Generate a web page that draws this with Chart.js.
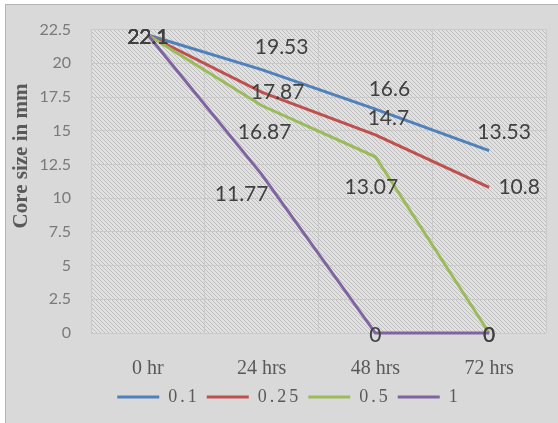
<!DOCTYPE html>
<html>
<head>
<meta charset="utf-8">
<script src="https://cdn.jsdelivr.net/npm/chart.js@4/dist/chart.umd.min.js"></script>
<style>
  html, body { margin: 0; padding: 0; background: #ffffff; }
  canvas { display: block; }
</style>
</head>
<body>
<canvas id="chart" width="558" height="423"></canvas>
<script>
// Categories (time after treatment) and core size series, in mm
const categories = ['0 hr', '24 hrs', '48 hrs', '72 hrs'];
const seriesNames = ['0.1', '0.25', '0.5', '1'];
const series01  = [22.1, 19.53, 16.6, 13.53];
const series025 = [22.1, 17.87, 14.7, 10.8];
const series05  = [22.1, 16.87, 13.07, 0];
const series1   = [22.1, 11.77, 0, 0];

// Value axis range
const yMin = 0;
const yMax = 22.5;
const yStep = 2.5;

// Styling
const seriesColors = ['#4f81bd', '#c0504d', '#9bbb59', '#8064a2'];
// Where each value label sits relative to its point (dx, dy in px)
const labelOffsets = [
  [[0, 2], [20, -22], [14, -20], [15, -18]],
  [[0, 2], [16, 0], [13, -17], [30, 0]],
  [[0, 2], [3, 27], [-4, 30], [0, 2]],
  [[0, 2], [-20, 20], [0, 2], [0, 2]]
];

// Diagonal hatch used as the plot area fill
function makeHatch(ctx) {
  const tile = document.createElement('canvas');
  tile.width = 4; tile.height = 4;
  const g = tile.getContext('2d');
  g.fillStyle = '#e1e1e1';
  g.fillRect(0, 0, 4, 4);
  g.fillStyle = '#bdbdbd';
  for (let i = 0; i < 4; i++) g.fillRect(i, i, 1, 1);
  return ctx.createPattern(tile, 'repeat');
}

const backgroundPlugin = {
  id: 'panelBackground',
  beforeDraw(chart) {
    const { ctx, width, height, chartArea } = chart;
    ctx.save();
    ctx.fillStyle = '#ffffff';
    ctx.fillRect(0, 0, width, height);
    ctx.fillStyle = '#d9d9d9';
    ctx.fillRect(5, 4, width - 5, height - 4);
    ctx.strokeStyle = '#b4b4b4';
    ctx.lineWidth = 1;
    ctx.beginPath();
    ctx.moveTo(5.5, height);
    ctx.lineTo(5.5, 4.5);
    ctx.lineTo(width, 4.5);
    ctx.stroke();
    ctx.fillStyle = makeHatch(ctx);
    ctx.fillRect(chartArea.left, chartArea.top,
                 chartArea.right - chartArea.left, chartArea.bottom - chartArea.top);
    ctx.restore();
  }
};

const valueLabelPlugin = {
  id: 'valueLabels',
  afterDatasetsDraw(chart) {
    const ctx = chart.ctx;
    ctx.save();
    ctx.font = '21px Lato';
    ctx.fillStyle = '#404040';
    ctx.textAlign = 'center';
    ctx.textBaseline = 'middle';
    chart.data.datasets.forEach((ds, di) => {
      const meta = chart.getDatasetMeta(di);
      meta.data.forEach((pt, i) => {
        const off = labelOffsets[di][i];
        ctx.fillText(String(ds.data[i]), pt.x + off[0], pt.y + off[1]);
      });
    });
    ctx.restore();
  }
};

const axisTitlePlugin = {
  id: 'valueAxisTitle',
  afterDraw(chart) {
    const ctx = chart.ctx;
    ctx.save();
    ctx.translate(22, 156);
    ctx.rotate(-Math.PI / 2);
    ctx.font = 'bold 21px "Liberation Serif"';
    ctx.fillStyle = '#595959';
    ctx.textAlign = 'center';
    ctx.textBaseline = 'middle';
    ctx.fillText('Core size in mm', 0, 0);
    ctx.restore();
  }
};

// Spaced-out lettering for the legend entries, in a compact strip below the axis
const legendSpacingPlugin = {
  id: 'legendSpacing',
  afterInit(chart) {
    const lg = chart.legend;
    if (!lg) return;
    const origFit = lg.fit.bind(lg);
    lg.fit = function () {
      const c = chart.ctx;
      c.save();
      c.letterSpacing = '3px';
      const r = origFit();
      c.restore();
      lg.height = 33;
      return r;
    };
    const origDraw = lg.draw.bind(lg);
    lg.draw = function () {
      const c = chart.ctx;
      c.save();
      c.letterSpacing = '3px';
      c.translate(16, -2);
      const r = origDraw();
      c.restore();
      return r;
    };
  }
};

const seriesData = [series01, series025, series05, series1];

const datasets = seriesData.map((vals, i) => ({
  label: seriesNames[i],
  data: vals,
  borderColor: seriesColors[i],
  backgroundColor: seriesColors[i],
  borderWidth: 3,
  pointRadius: 0,
  pointHoverRadius: 0,
  tension: 0,
  fill: false,
  clip: 6,
  order: seriesData.length - i
}));

new Chart(document.getElementById('chart'), {
  type: 'line',
  data: { labels: categories, datasets },
  plugins: [backgroundPlugin, valueLabelPlugin, axisTitlePlugin, legendSpacingPlugin],
  options: {
    responsive: false,
    animation: false,
    events: [],
    layout: { padding: { left: 0, right: 12, top: 22, bottom: 7 } },
    plugins: {
      tooltip: { enabled: false },
      legend: {
        position: 'bottom',
        labels: {
          boxWidth: 42,
          boxHeight: 3,
          padding: 7,
          color: '#595959',
          font: { family: 'Liberation Serif', size: 18 },
          generateLabels(chart) {
            return chart.data.datasets.map((ds, i) => ({
              text: ds.label,
              fillStyle: ds.borderColor,
              strokeStyle: ds.borderColor,
              lineWidth: 0,
              fontColor: '#595959',
              hidden: false,
              datasetIndex: i
            }));
          }
        }
      }
    },
    scales: {
      x: {
        offset: true,
        grid: { color: '#c9c9c9', drawTicks: false, offset: true },
        border: { display: false },
        ticks: {
          color: '#595959',
          font: { family: 'Liberation Serif', size: 20 },
          padding: 24
        },
        afterFit(scale) { scale.height = 50; }
      },
      y: {
        min: yMin,
        max: yMax,
        grid: { color: '#c9c9c9', drawTicks: false },
        border: { display: false },
        ticks: {
          stepSize: yStep,
          color: '#7a7a7a',
          font: { family: 'Lato', size: 16 },
          padding: 20
        },
        afterFit(scale) { scale.width = 91; }
      }
    }
  }
});
</script>
</body>
</html>
